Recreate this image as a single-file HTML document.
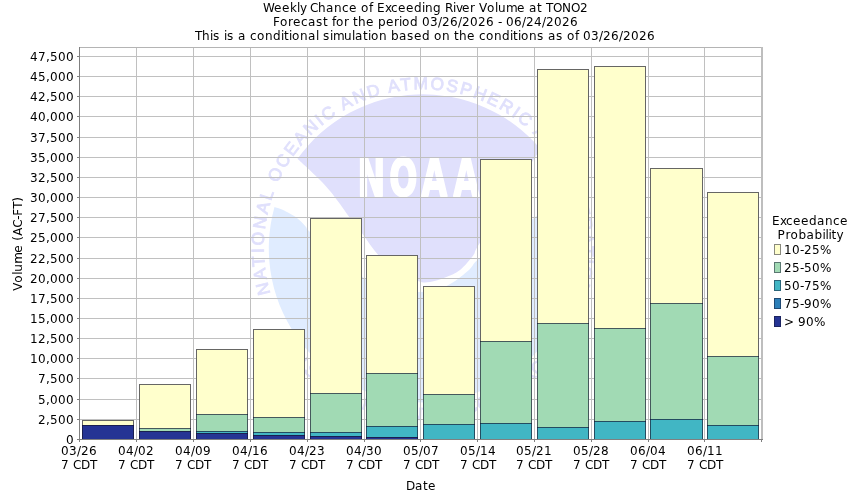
<!DOCTYPE html>
<html lang="en"><head><meta charset="utf-8"><title>Weekly Chance of Exceeding River Volume at TONO2</title>
<style>html,body{margin:0;padding:0;background:#fff;}svg{display:block;}text{font-family:"DejaVu Sans", "Liberation Sans", sans-serif;font-size:12px;fill:#000;}.c{shape-rendering:crispEdges;} .lg text{font-family:"Liberation Sans", "DejaVu Sans", sans-serif;}</style></head><body>
<svg width="850" height="500" viewBox="0 0 850 500">
<rect width="850" height="500" fill="#fff"/>
<g class="lg">
<path fill="#e0e0fc" d="M297.5,158.8 A154.0,154.0 0 0 1 540.5,149.0 C539.4,150.7 539.8,150.0 534.0,159.0 C528.2,168.0 515.3,188.5 506.0,203.0 C496.7,217.5 483.4,237.3 478.0,246.0 C472.6,254.7 476.5,251.0 473.5,255.0 C470.5,259.0 464.8,266.2 460.0,270.0 C455.2,273.8 450.0,275.6 445.0,277.6 C440.0,279.6 434.5,281.4 430.0,282.0 C425.5,282.6 423.3,283.0 418.0,281.0 C412.7,279.0 404.6,274.3 398.0,270.0 C391.4,265.7 384.5,261.4 378.6,255.4 C372.7,249.4 367.3,240.2 362.4,233.8 C357.5,227.4 352.9,222.0 349.2,217.0 C345.5,212.0 343.2,208.3 340.0,204.0 C336.8,199.7 333.3,195.0 330.0,191.0 C326.7,187.0 323.8,183.8 320.0,180.0 C316.2,176.2 311.2,171.5 307.4,168.0 C303.6,164.5 299.1,160.3 297.5,158.8 Z"/>
<path fill="#e0ecff" d="M274.5,206.9 A154.0,154.0 0 1 0 566.8,193.8 C561.3,197.8 544.1,210.6 534.0,218.0 C523.9,225.4 515.3,231.1 506.0,238.0 C496.7,244.9 484.2,254.3 478.0,259.6 C471.8,264.9 473.5,266.0 469.0,270.0 C464.5,274.0 456.5,280.3 451.0,283.6 C445.5,286.9 441.2,288.6 436.0,290.0 C430.8,291.4 426.0,291.8 420.0,292.0 C414.0,292.2 406.3,292.0 400.0,291.0 C393.7,290.0 388.0,288.2 382.0,286.0 C376.0,283.8 371.8,283.3 364.0,278.0 C356.2,272.7 344.0,261.7 335.0,254.0 C326.0,246.3 314.8,236.5 310.0,232.0 C305.2,227.5 307.5,228.8 306.0,227.0 C304.5,225.2 302.8,223.2 301.0,221.5 C299.2,219.8 297.2,218.0 295.0,216.5 C292.8,215.0 290.2,213.7 288.0,212.5 C285.8,211.3 284.3,210.4 282.0,209.5 C279.7,208.6 275.7,207.3 274.5,206.9 Z"/>
<path id="ringTop" fill="none" d="M270.35,293.46 A159.0,159.0 0 1 1 570.22,307.86"/>
<text style="font-size:17.4px;fill:#e0e0fc;stroke:#e0e0fc;stroke-width:0.8px;letter-spacing:2.51px"><textPath href="#ringTop">NATIONAL<tspan style="letter-spacing:2.05px"> OCEANIC AND ATMOSPHERIC ADMINISTRATION</tspan></textPath></text>
<path id="ringBot" fill="none" d="M291.42,358.54 A171.5,171.5 0 0 0 554.18,358.54"/>
<text style="font-size:17.4px;fill:#e0e0fc;stroke:#e0e0fc;stroke-width:0.8px;letter-spacing:0.201px" text-anchor="middle"><textPath href="#ringBot" startOffset="50%">U.S. DEPARTMENT OF COMMERCE</textPath></text>
<text transform="translate(357,196) scale(0.65,1)" x="0.6 49.8 99.1 148.3" y="0" style="font-family:'DejaVu Sans','Liberation Sans',sans-serif;font-weight:bold;font-size:51px;fill:#fff;stroke:#fff;stroke-width:2px;stroke-linejoin:round">NOAA</text>
</g>
<g class="c" fill="#c0c0c0">
<rect x="80" y="419" width="681" height="1"/>
<rect x="80" y="399" width="681" height="1"/>
<rect x="80" y="378" width="681" height="1"/>
<rect x="80" y="358" width="681" height="1"/>
<rect x="80" y="338" width="681" height="1"/>
<rect x="80" y="318" width="681" height="1"/>
<rect x="80" y="298" width="681" height="1"/>
<rect x="80" y="278" width="681" height="1"/>
<rect x="80" y="258" width="681" height="1"/>
<rect x="80" y="237" width="681" height="1"/>
<rect x="80" y="217" width="681" height="1"/>
<rect x="80" y="197" width="681" height="1"/>
<rect x="80" y="177" width="681" height="1"/>
<rect x="80" y="157" width="681" height="1"/>
<rect x="80" y="137" width="681" height="1"/>
<rect x="80" y="116" width="681" height="1"/>
<rect x="80" y="96" width="681" height="1"/>
<rect x="80" y="76" width="681" height="1"/>
<rect x="80" y="56" width="681" height="1"/>
<rect x="136" y="48" width="1" height="391"/>
<rect x="193" y="48" width="1" height="391"/>
<rect x="250" y="48" width="1" height="391"/>
<rect x="307" y="48" width="1" height="391"/>
<rect x="364" y="48" width="1" height="391"/>
<rect x="420" y="48" width="1" height="391"/>
<rect x="477" y="48" width="1" height="391"/>
<rect x="534" y="48" width="1" height="391"/>
<rect x="591" y="48" width="1" height="391"/>
<rect x="648" y="48" width="1" height="391"/>
<rect x="704" y="48" width="1" height="391"/>
</g>
<g class="c"><rect x="79" y="47" width="684" height="1" fill="#b4b4b4"/><rect x="761" y="47" width="2" height="393" fill="#bebebe"/></g>
<g class="c">
<rect x="82" y="420" width="52" height="5" fill="#ffffcc"/>
<rect x="82" y="425" width="52" height="14" fill="#253494"/>
<rect x="82" y="420" width="52" height="1" fill="rgba(20,20,45,0.65)"/>
<rect x="82" y="425" width="52" height="1" fill="rgba(20,20,45,0.65)"/>
<rect x="82" y="421" width="1" height="18" fill="rgba(20,20,45,0.65)"/>
<rect x="133" y="421" width="1" height="18" fill="rgba(20,20,45,0.65)"/>
<rect x="139" y="384" width="52" height="44" fill="#ffffcc"/>
<rect x="139" y="428" width="52" height="3" fill="#a1dab4"/>
<rect x="139" y="431" width="52" height="8" fill="#253494"/>
<rect x="139" y="384" width="52" height="1" fill="rgba(20,20,45,0.65)"/>
<rect x="139" y="428" width="52" height="1" fill="rgba(20,20,45,0.65)"/>
<rect x="139" y="431" width="52" height="1" fill="rgba(20,20,45,0.65)"/>
<rect x="139" y="385" width="1" height="54" fill="rgba(20,20,45,0.65)"/>
<rect x="190" y="385" width="1" height="54" fill="rgba(20,20,45,0.65)"/>
<rect x="196" y="349" width="52" height="65" fill="#ffffcc"/>
<rect x="196" y="414" width="52" height="17" fill="#a1dab4"/>
<rect x="196" y="431" width="52" height="2" fill="#41b6c4"/>
<rect x="196" y="433" width="52" height="6" fill="#253494"/>
<rect x="196" y="349" width="52" height="1" fill="rgba(20,20,45,0.65)"/>
<rect x="196" y="414" width="52" height="1" fill="rgba(20,20,45,0.65)"/>
<rect x="196" y="431" width="52" height="1" fill="rgba(20,20,45,0.65)"/>
<rect x="196" y="433" width="52" height="1" fill="rgba(20,20,45,0.65)"/>
<rect x="196" y="350" width="1" height="89" fill="rgba(20,20,45,0.65)"/>
<rect x="247" y="350" width="1" height="89" fill="rgba(20,20,45,0.65)"/>
<rect x="253" y="329" width="52" height="88" fill="#ffffcc"/>
<rect x="253" y="417" width="52" height="15" fill="#a1dab4"/>
<rect x="253" y="432" width="52" height="3" fill="#41b6c4"/>
<rect x="253" y="435" width="52" height="4" fill="#253494"/>
<rect x="253" y="329" width="52" height="1" fill="rgba(20,20,45,0.65)"/>
<rect x="253" y="417" width="52" height="1" fill="rgba(20,20,45,0.65)"/>
<rect x="253" y="432" width="52" height="1" fill="rgba(20,20,45,0.65)"/>
<rect x="253" y="435" width="52" height="1" fill="rgba(20,20,45,0.65)"/>
<rect x="253" y="330" width="1" height="109" fill="rgba(20,20,45,0.65)"/>
<rect x="304" y="330" width="1" height="109" fill="rgba(20,20,45,0.65)"/>
<rect x="310" y="218" width="52" height="175" fill="#ffffcc"/>
<rect x="310" y="393" width="52" height="39" fill="#a1dab4"/>
<rect x="310" y="432" width="52" height="4" fill="#41b6c4"/>
<rect x="310" y="436" width="52" height="3" fill="#253494"/>
<rect x="310" y="218" width="52" height="1" fill="rgba(20,20,45,0.65)"/>
<rect x="310" y="393" width="52" height="1" fill="rgba(20,20,45,0.65)"/>
<rect x="310" y="432" width="52" height="1" fill="rgba(20,20,45,0.65)"/>
<rect x="310" y="436" width="52" height="1" fill="rgba(20,20,45,0.65)"/>
<rect x="310" y="219" width="1" height="220" fill="rgba(20,20,45,0.65)"/>
<rect x="361" y="219" width="1" height="220" fill="rgba(20,20,45,0.65)"/>
<rect x="366" y="255" width="52" height="118" fill="#ffffcc"/>
<rect x="366" y="373" width="52" height="53" fill="#a1dab4"/>
<rect x="366" y="426" width="52" height="11" fill="#41b6c4"/>
<rect x="366" y="437" width="52" height="2" fill="#253494"/>
<rect x="366" y="255" width="52" height="1" fill="rgba(20,20,45,0.65)"/>
<rect x="366" y="373" width="52" height="1" fill="rgba(20,20,45,0.65)"/>
<rect x="366" y="426" width="52" height="1" fill="rgba(20,20,45,0.65)"/>
<rect x="366" y="437" width="52" height="1" fill="rgba(20,20,45,0.65)"/>
<rect x="366" y="256" width="1" height="183" fill="rgba(20,20,45,0.65)"/>
<rect x="417" y="256" width="1" height="183" fill="rgba(20,20,45,0.65)"/>
<rect x="423" y="286" width="52" height="108" fill="#ffffcc"/>
<rect x="423" y="394" width="52" height="30" fill="#a1dab4"/>
<rect x="423" y="424" width="52" height="15" fill="#41b6c4"/>
<rect x="423" y="286" width="52" height="1" fill="rgba(20,20,45,0.65)"/>
<rect x="423" y="394" width="52" height="1" fill="rgba(20,20,45,0.65)"/>
<rect x="423" y="424" width="52" height="1" fill="rgba(20,20,45,0.65)"/>
<rect x="423" y="287" width="1" height="152" fill="rgba(20,20,45,0.65)"/>
<rect x="474" y="287" width="1" height="152" fill="rgba(20,20,45,0.65)"/>
<rect x="480" y="159" width="52" height="182" fill="#ffffcc"/>
<rect x="480" y="341" width="52" height="82" fill="#a1dab4"/>
<rect x="480" y="423" width="52" height="16" fill="#41b6c4"/>
<rect x="480" y="159" width="52" height="1" fill="rgba(20,20,45,0.65)"/>
<rect x="480" y="341" width="52" height="1" fill="rgba(20,20,45,0.65)"/>
<rect x="480" y="423" width="52" height="1" fill="rgba(20,20,45,0.65)"/>
<rect x="480" y="160" width="1" height="279" fill="rgba(20,20,45,0.65)"/>
<rect x="531" y="160" width="1" height="279" fill="rgba(20,20,45,0.65)"/>
<rect x="537" y="69" width="52" height="254" fill="#ffffcc"/>
<rect x="537" y="323" width="52" height="104" fill="#a1dab4"/>
<rect x="537" y="427" width="52" height="12" fill="#41b6c4"/>
<rect x="537" y="69" width="52" height="1" fill="rgba(20,20,45,0.65)"/>
<rect x="537" y="323" width="52" height="1" fill="rgba(20,20,45,0.65)"/>
<rect x="537" y="427" width="52" height="1" fill="rgba(20,20,45,0.65)"/>
<rect x="537" y="70" width="1" height="369" fill="rgba(20,20,45,0.65)"/>
<rect x="588" y="70" width="1" height="369" fill="rgba(20,20,45,0.65)"/>
<rect x="594" y="66" width="52" height="262" fill="#ffffcc"/>
<rect x="594" y="328" width="52" height="93" fill="#a1dab4"/>
<rect x="594" y="421" width="52" height="18" fill="#41b6c4"/>
<rect x="594" y="66" width="52" height="1" fill="rgba(20,20,45,0.65)"/>
<rect x="594" y="328" width="52" height="1" fill="rgba(20,20,45,0.65)"/>
<rect x="594" y="421" width="52" height="1" fill="rgba(20,20,45,0.65)"/>
<rect x="594" y="67" width="1" height="372" fill="rgba(20,20,45,0.65)"/>
<rect x="645" y="67" width="1" height="372" fill="rgba(20,20,45,0.65)"/>
<rect x="650" y="168" width="53" height="135" fill="#ffffcc"/>
<rect x="650" y="303" width="53" height="116" fill="#a1dab4"/>
<rect x="650" y="419" width="53" height="20" fill="#41b6c4"/>
<rect x="650" y="168" width="53" height="1" fill="rgba(20,20,45,0.65)"/>
<rect x="650" y="303" width="53" height="1" fill="rgba(20,20,45,0.65)"/>
<rect x="650" y="419" width="53" height="1" fill="rgba(20,20,45,0.65)"/>
<rect x="650" y="169" width="1" height="270" fill="rgba(20,20,45,0.65)"/>
<rect x="702" y="169" width="1" height="270" fill="rgba(20,20,45,0.65)"/>
<rect x="707" y="192" width="52" height="164" fill="#ffffcc"/>
<rect x="707" y="356" width="52" height="69" fill="#a1dab4"/>
<rect x="707" y="425" width="52" height="14" fill="#41b6c4"/>
<rect x="707" y="192" width="52" height="1" fill="rgba(20,20,45,0.65)"/>
<rect x="707" y="356" width="52" height="1" fill="rgba(20,20,45,0.65)"/>
<rect x="707" y="425" width="52" height="1" fill="rgba(20,20,45,0.65)"/>
<rect x="707" y="193" width="1" height="246" fill="rgba(20,20,45,0.65)"/>
<rect x="758" y="193" width="1" height="246" fill="rgba(20,20,45,0.65)"/>
</g>
<g class="c" fill="#808080">
<rect x="79" y="47" width="1" height="393"/>
<rect x="79" y="439" width="684" height="1"/>
<rect x="77" y="439" width="2" height="1"/>
<rect x="77" y="419" width="2" height="1"/>
<rect x="77" y="399" width="2" height="1"/>
<rect x="77" y="378" width="2" height="1"/>
<rect x="77" y="358" width="2" height="1"/>
<rect x="77" y="338" width="2" height="1"/>
<rect x="77" y="318" width="2" height="1"/>
<rect x="77" y="298" width="2" height="1"/>
<rect x="77" y="278" width="2" height="1"/>
<rect x="77" y="258" width="2" height="1"/>
<rect x="77" y="237" width="2" height="1"/>
<rect x="77" y="217" width="2" height="1"/>
<rect x="77" y="197" width="2" height="1"/>
<rect x="77" y="177" width="2" height="1"/>
<rect x="77" y="157" width="2" height="1"/>
<rect x="77" y="137" width="2" height="1"/>
<rect x="77" y="116" width="2" height="1"/>
<rect x="77" y="96" width="2" height="1"/>
<rect x="77" y="76" width="2" height="1"/>
<rect x="77" y="56" width="2" height="1"/>
<rect x="79" y="440" width="1" height="2"/>
<rect x="136" y="440" width="1" height="2"/>
<rect x="193" y="440" width="1" height="2"/>
<rect x="250" y="440" width="1" height="2"/>
<rect x="307" y="440" width="1" height="2"/>
<rect x="364" y="440" width="1" height="2"/>
<rect x="420" y="440" width="1" height="2"/>
<rect x="477" y="440" width="1" height="2"/>
<rect x="534" y="440" width="1" height="2"/>
<rect x="591" y="440" width="1" height="2"/>
<rect x="648" y="440" width="1" height="2"/>
<rect x="704" y="440" width="1" height="2"/>
<rect x="761" y="440" width="1" height="2"/>
</g>
<text x="263 274 282 290 297 300 306 310 318 326 334 342 349 357 361 369 373 377 385 391 398 406 414 422 425 433 441 445 453 456 462 470 475 479 487 495 498 506 517 525 529 537 542 546 553 562 571 580" y="12">Weekly Chance of Exceeding River Volume at TONO2</text>
<text x="273 280 288 293 301 308 316 323 328 332 336 344 349 353 358 366 374 378 386 394 399 402 410 418 422 430 438 442 450 458 462 470 478 486 494 498 502 506 514 522 526 534 542 546 554 562 570" y="26">Forecast for the period 03/26/2026 - 06/24/2026</text>
<text x="195 202 210 213 220 224 227 234 238 246 250 257 265 273 281 284 289 292 300 308 316 319 323 330 333 344 352 355 363 368 371 379 387 391 399 407 414 422 430 434 442 450 454 459 467 475 479 486 494 502 510 513 518 521 529 537 544 548 556 563 567 575 579 583 591 599 603 611 619 623 631 639 647" y="40">This is a conditional simulation based on the conditions as of 03/26/2026</text>
<text x="61 69 77 81 89" y="455">03/26</text>
<text x="61 69 73 81 90" y="469">7 CDT</text>
<text x="118 126 134 138 146" y="455">04/02</text>
<text x="118 126 130 138 147" y="469">7 CDT</text>
<text x="175 183 191 195 203" y="455">04/09</text>
<text x="175 183 187 195 204" y="469">7 CDT</text>
<text x="232 240 248 252 260" y="455">04/16</text>
<text x="232 240 244 252 261" y="469">7 CDT</text>
<text x="289 297 305 309 317" y="455">04/23</text>
<text x="289 297 301 309 318" y="469">7 CDT</text>
<text x="346 354 362 366 374" y="455">04/30</text>
<text x="346 354 358 366 375" y="469">7 CDT</text>
<text x="403 411 419 423 431" y="455">05/07</text>
<text x="403 411 415 423 432" y="469">7 CDT</text>
<text x="460 468 476 480 488" y="455">05/14</text>
<text x="460 468 472 480 489" y="469">7 CDT</text>
<text x="516 524 532 536 544" y="455">05/21</text>
<text x="516 524 528 536 545" y="469">7 CDT</text>
<text x="573 581 589 593 601" y="455">05/28</text>
<text x="573 581 585 593 602" y="469">7 CDT</text>
<text x="630 638 646 650 658" y="455">06/04</text>
<text x="630 638 642 650 659" y="469">7 CDT</text>
<text x="687 695 703 707 715" y="455">06/11</text>
<text x="687 695 699 707 716" y="469">7 CDT</text>
<text x="406 415 423 428" y="490">Date</text>
<text x="0 8 16 19 27 38 46 50 55 63 71 75 82 89" y="0" transform="translate(22,290.8) rotate(-90)">Volume (AC-FT)</text>
<text x="772 780 786 793 801 809 817 825 833 840" y="225">Exceedance</text>
<text x="777.5 785.5 790.5 798.5 806.5 814.5 822.5 825.5 828.5 831.5 836.5" y="239">Probability</text>
<text x="66" y="444">0</text>
<text x="38 46 50 58 66" y="424">2,500</text>
<text x="38 46 50 58 66" y="404">5,000</text>
<text x="38 46 50 58 66" y="383">7,500</text>
<text x="30 38 46 50 58 66" y="363">10,000</text>
<text x="30 38 46 50 58 66" y="343">12,500</text>
<text x="30 38 46 50 58 66" y="323">15,000</text>
<text x="30 38 46 50 58 66" y="303">17,500</text>
<text x="30 38 46 50 58 66" y="283">20,000</text>
<text x="30 38 46 50 58 66" y="263">22,500</text>
<text x="30 38 46 50 58 66" y="242">25,000</text>
<text x="30 38 46 50 58 66" y="222">27,500</text>
<text x="30 38 46 50 58 66" y="202">30,000</text>
<text x="30 38 46 50 58 66" y="182">32,500</text>
<text x="30 38 46 50 58 66" y="162">35,000</text>
<text x="30 38 46 50 58 66" y="142">37,500</text>
<text x="30 38 46 50 58 66" y="121">40,000</text>
<text x="30 38 46 50 58 66" y="101">42,500</text>
<text x="30 38 46 50 58 66" y="81">45,000</text>
<text x="30 38 46 50 58 66" y="61">47,500</text>
<g class="c"><rect x="774" y="244" width="7" height="11" fill="#ffffcc"/><rect x="774" y="244" width="7" height="1" fill="rgba(20,20,45,0.5)"/><rect x="774" y="254" width="7" height="1" fill="rgba(20,20,45,0.5)"/><rect x="774" y="245" width="1" height="9" fill="rgba(20,20,45,0.5)"/><rect x="780" y="245" width="1" height="9" fill="rgba(20,20,45,0.5)"/></g>
<text x="784 792 800 804 812 820" y="254">10-25%</text>
<g class="c"><rect x="774" y="262" width="7" height="11" fill="#a1dab4"/><rect x="774" y="262" width="7" height="1" fill="rgba(20,20,45,0.5)"/><rect x="774" y="272" width="7" height="1" fill="rgba(20,20,45,0.5)"/><rect x="774" y="263" width="1" height="9" fill="rgba(20,20,45,0.5)"/><rect x="780" y="263" width="1" height="9" fill="rgba(20,20,45,0.5)"/></g>
<text x="784 792 800 804 812 820" y="272">25-50%</text>
<g class="c"><rect x="774" y="280" width="7" height="11" fill="#41b6c4"/><rect x="774" y="280" width="7" height="1" fill="rgba(20,20,45,0.5)"/><rect x="774" y="290" width="7" height="1" fill="rgba(20,20,45,0.5)"/><rect x="774" y="281" width="1" height="9" fill="rgba(20,20,45,0.5)"/><rect x="780" y="281" width="1" height="9" fill="rgba(20,20,45,0.5)"/></g>
<text x="784 792 800 804 812 820" y="290">50-75%</text>
<g class="c"><rect x="774" y="298" width="7" height="11" fill="#2c7fb8"/><rect x="774" y="298" width="7" height="1" fill="rgba(20,20,45,0.5)"/><rect x="774" y="308" width="7" height="1" fill="rgba(20,20,45,0.5)"/><rect x="774" y="299" width="1" height="9" fill="rgba(20,20,45,0.5)"/><rect x="780" y="299" width="1" height="9" fill="rgba(20,20,45,0.5)"/></g>
<text x="784 792 800 804 812 820" y="308">75-90%</text>
<g class="c"><rect x="774" y="316" width="7" height="11" fill="#253494"/><rect x="774" y="316" width="7" height="1" fill="rgba(20,20,45,0.5)"/><rect x="774" y="326" width="7" height="1" fill="rgba(20,20,45,0.5)"/><rect x="774" y="317" width="1" height="9" fill="rgba(20,20,45,0.5)"/><rect x="780" y="317" width="1" height="9" fill="rgba(20,20,45,0.5)"/></g>
<text x="784 794 798 806 814" y="326">&gt; 90%</text>
</svg></body></html>
